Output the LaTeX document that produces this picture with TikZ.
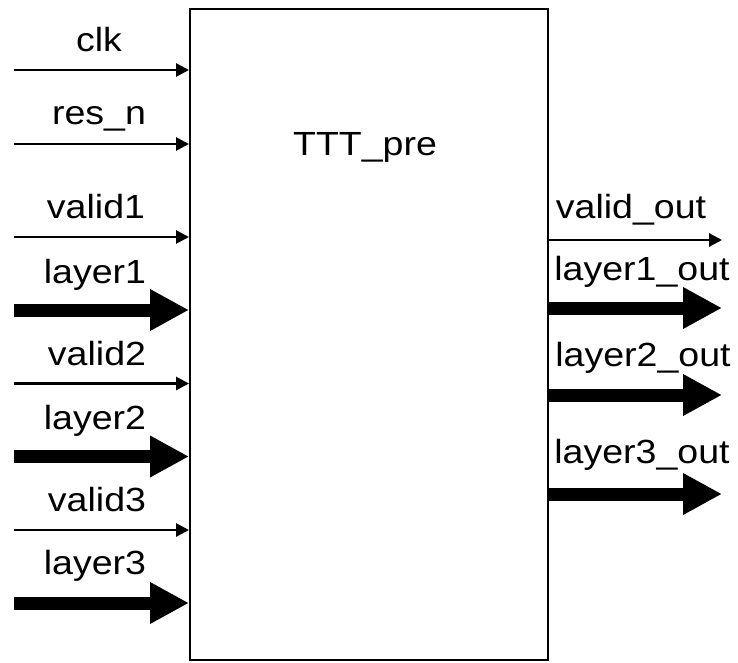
\documentclass[tikz,border=0pt]{standalone}
\usepackage{fontspec}
\setmainfont{Liberation Sans}[FakeStretch=1.12]
\usetikzlibrary{arrows.meta}
\begin{document}
\begin{tikzpicture}[x=1pt,y=-1pt,
  lbl/.style={anchor=base,inner sep=0pt,font=\fontsize{33.5}{40}\selectfont},
  sig/.style={line width=2.8pt,-{Triangle[length=13pt,width=13pt]}},
  bus/.style={line width=13pt,-{Triangle[length=39pt,width=39pt]}}]
\useasboundingbox (0,0) rectangle (738,663);
\node[draw,line width=2pt,minimum width=358pt,minimum height=651pt,inner sep=0pt] (box) at (369,334.5) {};
\node[lbl] (title) at (365,155.7) {TTT\_pre};
% inputs
\coordinate (clkS) at (14,70);
\coordinate (resS) at (14,144);
\coordinate (v1S) at (14,237);
\coordinate (l1S) at (14,310);
\coordinate (v2S) at (14,383.5);
\coordinate (l2S) at (14,456.5);
\coordinate (v3S) at (14,530);
\coordinate (l3S) at (14,603);
\draw[sig] (clkS) -- (clkS -| box.west);
\draw[sig] (resS) -- (resS -| box.west);
\draw[sig] (v1S) -- (v1S -| box.west);
\draw[bus] (l1S) -- (l1S -| box.west);
\draw[sig] (v2S) -- (v2S -| box.west);
\draw[bus] (l2S) -- (l2S -| box.west);
\draw[sig] (v3S) -- (v3S -| box.west);
\draw[bus] (l3S) -- (l3S -| box.west);
\node[lbl] (clkL) at (99,52) {clk};
\node[lbl] (resL) at (99,125) {res\_n};
\node[lbl] (v1L) at (96,218) {valid1};
\node[lbl] (l1L) at (95,283) {layer1};
\node[lbl] (v2L) at (97,365) {valid2};
\node[lbl] (l2L) at (95,429) {layer2};
\node[lbl] (v3L) at (97,511) {valid3};
\node[lbl] (l3L) at (95,574) {layer3};
% outputs
\coordinate (voE) at (722,240);
\coordinate (o1E) at (722,308);
\coordinate (o2E) at (722,395);
\coordinate (o3E) at (722,494);
\draw[sig] (voE -| box.east) -- (voE);
\draw[bus] (o1E -| box.east) -- (o1E);
\draw[bus] (o2E -| box.east) -- (o2E);
\draw[bus] (o3E -| box.east) -- (o3E);
\node[lbl] (voL) at (631,218) {valid\_out};
\node[lbl] (o1L) at (642,280) {layer1\_out};
\node[lbl] (o2L) at (643,366) {layer2\_out};
\node[lbl] (o3L) at (642,463) {layer3\_out};
\end{tikzpicture}
\end{document}
